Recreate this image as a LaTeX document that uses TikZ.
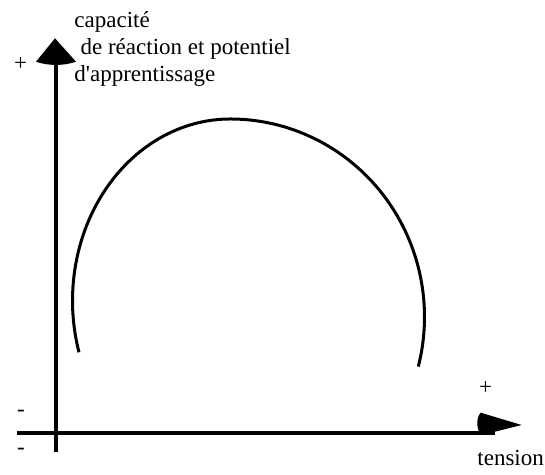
\documentclass[tikz,border=0pt]{standalone}
\usepackage{fontspec}
\setmainfont{Liberation Serif}
\usetikzlibrary{positioning}

\begin{document}
\begin{tikzpicture}[x=0.5pt, y=0.5pt,
  lbl/.style = {inner sep=0pt, font=\fontsize{11.5}{13.5}\selectfont},
  axis/.style = {line width=2pt},
  head/.style = {fill=black, draw=none},
  curve/.style = {line width=1.5pt}]

\useasboundingbox (0,0) rectangle (545,475);

% axes end points
\coordinate (ybot)   at (56,23.3);
\coordinate (ytop)   at (56,410);
\coordinate (xleft)  at (17,42.3);
\coordinate (xright) at (495,42.3);

%--- vertical axis ---
\draw[axis] (ybot) -- (ytop);
\fill[head] (55,436.7) -- (36,413.3) .. controls (48,409) and (64,409) .. (76,413.3) -- cycle;

%--- horizontal axis ---
\draw[axis] (xleft) -- (xright);
\fill[head] (521.7,50) -- (480.7,62.3) .. controls (476,58) and (476,44) .. (481.7,40) -- cycle;

% labels
\node[lbl, anchor=base west, align=left] (ylabel) at (74,393.3)
  {capacité\\\hspace*{0.27em}de réaction et potentiel\\d\textquotesingle apprentissage};
\node[lbl, anchor=base west] (xlabel) at (477,9.3) {tension};

% signs
\node[lbl, anchor=base] (yplus)  at (20.7,404.2) {+};
\node[lbl, anchor=base] (xplus)  at (485.7,80.2) {+};
\node[lbl, anchor=base] (minusa) at (21,58.7) {-};
\node[lbl, anchor=base] (minusb) at (21,20.7) {-};

%--- bell curve ---
\draw[curve] (79,122.7) arc[start angle=196.5, end angle=90, x radius=157.7, y radius=181.7]
  arc[start angle=90, end angle=-14.5, x radius=194.3, y radius=198];

\end{tikzpicture}
\end{document}
